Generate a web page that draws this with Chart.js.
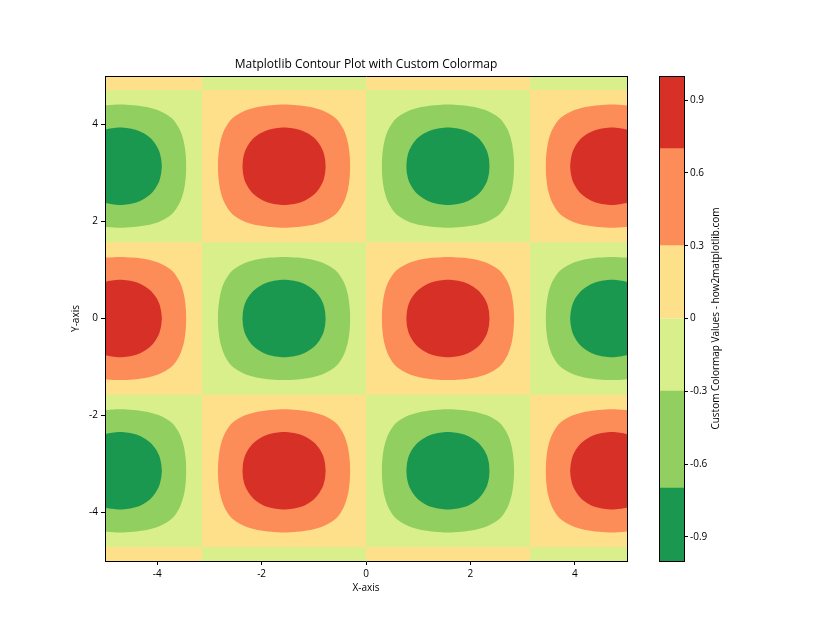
<!DOCTYPE html>
<html>
<head>
<meta charset="utf-8">
<script src="https://cdn.jsdelivr.net/npm/chart.js@4/dist/chart.umd.min.js"></script>
<style>
  html, body { margin: 0; padding: 0; background: #ffffff; }
  #wrap { position: relative; width: 840px; height: 630px; }
  canvas { position: absolute; left: 0; top: 0; }
</style>
</head>
<body>
<div id="wrap">
  <canvas id="main" width="840" height="630"></canvas>
  <canvas id="cbar" width="840" height="630"></canvas>
</div>
<script>
// ---------------- data ----------------
const xTicks = [-4, -2, 0, 2, 4];
const yTicks = [-4, -2, 0, 2, 4];
const cbTicks = [-0.9, -0.6, -0.3, 0, 0.3, 0.6, 0.9];
const levels = [-1, -0.7, -0.3, 0, 0.3, 0.7, 1];
const bandColors = ['#1a9850', '#91cf60', '#d9ef8b', '#fee08b', '#fc8d59', '#d73027'];

// zero-contour lines splitting the field into cells
const xEdges = [-5, -3.14, 0, 3.14, 5];
const yEdges = [-5, -4.71, -1.57, 1.57, 4.71, 5];
// sign of each cell, rows bottom -> top, columns left -> right
const cellSign = [
  [ 1, -1,  1, -1],
  [-1,  1, -1,  1],
  [ 1, -1,  1, -1],
  [-1,  1, -1,  1],
  [ 1, -1,  1, -1]
];
// extrema (blob centres) and their sign, rows bottom -> top
const peakX = [-4.71, -1.57, 1.57, 4.71];
const peakY = [-3.14, 0, 3.14];
const peakSign = [
  [-1,  1, -1,  1],
  [ 1, -1,  1, -1],
  [-1,  1, -1,  1]
];
// contour radius (data units) from a blob centre, at these angles (symmetric per octant)
const contourAngleDeg = [0, 11.25, 22.5, 33.75, 45];
const radiusLevel03 = [1.27, 1.28, 1.32, 1.37, 1.40];
const radiusLevel07 = [0.80, 0.80, 0.81, 0.815, 0.82];

const FONT = "'Open Sans', 'Noto Sans', sans-serif";
Chart.defaults.font.family = FONT;
Chart.defaults.color = '#000';

// ---------------- build datasets ----------------
function radiusAt(arr, deg) {
  let a = ((deg % 90) + 90) % 90;
  if (a > 45) a = 90 - a;
  return arr[Math.round(a / contourAngleDeg[1])];
}
function halfCurve(cx, cy, radii, upper) {
  const pts = [];
  const step = contourAngleDeg[1];
  for (let k = 0; k <= 16; k++) {
    const deg = upper ? 180 - k * step : 180 + k * step;
    const r = radiusAt(radii, deg);
    const t = deg * Math.PI / 180;
    pts.push({x: cx + r * Math.cos(t), y: cy + r * Math.sin(t)});
  }
  return pts;
}
const base = {type: 'line', pointRadius: 0, pointHoverRadius: 0, borderWidth: 0, borderColor: 'transparent'};
const datasets = [];
function rectDataset(x0, x1, y0, y1, color, order) {
  datasets.push(Object.assign({}, base, {
    data: [{x: x0, y: y1}, {x: x1, y: y1}],
    fill: {value: y0}, backgroundColor: color, tension: 0, order: order
  }));
}
function blobDatasets(cx, cy, radii, color, order) {
  datasets.push(Object.assign({}, base, {
    data: halfCurve(cx, cy, radii, true), fill: '+1', backgroundColor: color, tension: 0.3, order: order
  }));
  datasets.push(Object.assign({}, base, {
    data: halfCurve(cx, cy, radii, false), fill: false, backgroundColor: color, tension: 0.3, order: order
  }));
}
// background (0 .. 0.3 band)
rectDataset(xEdges[0], xEdges[xEdges.length - 1], yEdges[0], yEdges[yEdges.length - 1], bandColors[3], 1000);
let ord = 900;
cellSign.forEach((row, j) => row.forEach((s, i) => {
  if (s < 0) rectDataset(xEdges[i], xEdges[i + 1], yEdges[j], yEdges[j + 1], bandColors[2], ord--);
}));
ord = 500;
peakSign.forEach((row, j) => row.forEach((s, i) => {
  blobDatasets(peakX[i], peakY[j], radiusLevel03, s > 0 ? bandColors[4] : bandColors[1], ord--);
}));
ord = 100;
peakSign.forEach((row, j) => row.forEach((s, i) => {
  blobDatasets(peakX[i], peakY[j], radiusLevel07, s > 0 ? bandColors[5] : bandColors[0], ord--);
}));

const tickFont = {size: 10, family: FONT};
const fmt = v => String(Math.round(v * 10) / 10);
const borderTop = {display: true, color: '#000', width: 1, z: 1};
const frameAxis = (pos, isX) => ({
  type: 'linear', position: pos, display: true,
  ticks: {display: false}, grid: {display: false},
  border: borderTop,
  afterFit: s => { if (isX) s.height = 0; else s.width = 0; }
});

new Chart(document.getElementById('main'), {
  type: 'line',
  data: {datasets: datasets},
  options: {
    responsive: false, animation: false, events: [],
    layout: {padding: {left: 0, right: 213, top: 0, bottom: 0}},
    plugins: {
      legend: {display: false}, tooltip: {enabled: false},
      title: {display: true, fullSize: false, text: 'Matplotlib Contour Plot with Custom Colormap',
        font: {size: 12, weight: 'normal', family: FONT}, color: '#000',
        padding: {top: 57.8, bottom: 3.8}}
    },
    scales: {
      x: {
        type: 'linear', position: 'bottom', min: -5, max: 5,
        afterBuildTicks: s => { s.ticks = xTicks.map(v => ({value: v})); },
        ticks: {font: tickFont, color: '#000', padding: 3, maxRotation: 0, autoSkip: false, callback: fmt},
        grid: {display: true, drawOnChartArea: false, drawTicks: true, tickLength: 4, tickColor: '#000', color: '#000'},
        border: borderTop,
        title: {display: true, text: 'X-axis', font: tickFont, color: '#000', padding: {top: 0, bottom: 36}},
        afterFit: s => { s.height = 69; }
      },
      y: {
        type: 'linear', position: 'left', min: -5, max: 5,
        afterBuildTicks: s => { s.ticks = yTicks.map(v => ({value: v})); },
        ticks: {font: tickFont, color: '#000', padding: 3, autoSkip: false, callback: fmt},
        grid: {display: true, drawOnChartArea: false, drawTicks: true, tickLength: 4, tickColor: '#000', color: '#000'},
        border: borderTop,
        title: {display: true, text: 'Y-axis', font: tickFont, color: '#000', padding: {top: 70, bottom: 0}},
        afterFit: s => { s.width = 105; }
      },
      xTop: frameAxis('top', true),
      yRight: frameAxis('right', false)
    }
  }
});

// ---------------- colour bar ----------------
const cbDatasets = bandColors.map((c, i) => ({
  data: [[levels[i], levels[i + 1]]], backgroundColor: c, borderWidth: 0,
  barPercentage: 1, categoryPercentage: 1, inflateAmount: 0.6
}));
const cbLabel = {
  id: 'cbLabel',
  afterDraw(chart) {
    const ctx = chart.ctx;
    ctx.save();
    ctx.translate(716, (chart.chartArea.top + chart.chartArea.bottom) / 2);
    ctx.rotate(-Math.PI / 2);
    ctx.font = '10px ' + FONT;
    ctx.fillStyle = '#000';
    ctx.textAlign = 'center';
    ctx.textBaseline = 'middle';
    ctx.fillText('Custom Colormap Values - how2matplotlib.com', 0, 0);
    ctx.restore();
  }
};
new Chart(document.getElementById('cbar'), {
  type: 'bar',
  data: {labels: ['cb'], datasets: cbDatasets},
  plugins: [cbLabel],
  options: {
    responsive: false, animation: false, events: [],
    layout: {padding: {left: 659, right: 76, top: 76, bottom: 69}},
    plugins: {legend: {display: false}, tooltip: {enabled: false}},
    scales: {
      x: {stacked: true, display: true, ticks: {display: false}, grid: {display: false},
          border: borderTop, afterFit: s => { s.height = 0; }},
      y: {
        type: 'linear', position: 'right', min: -1, max: 1, stacked: false,
        afterBuildTicks: s => { s.ticks = cbTicks.map(v => ({value: v})); },
        ticks: {font: tickFont, color: '#000', padding: 2, autoSkip: false, callback: fmt},
        grid: {display: true, drawOnChartArea: false, drawTicks: true, tickLength: 4, tickColor: '#000', color: '#000'},
        border: borderTop,
        afterFit: s => { s.width = 80; }
      },
      cbLeft: frameAxis('left', false),
      cbTop: frameAxis('top', true)
    }
  }
});
</script>
</body>
</html>
